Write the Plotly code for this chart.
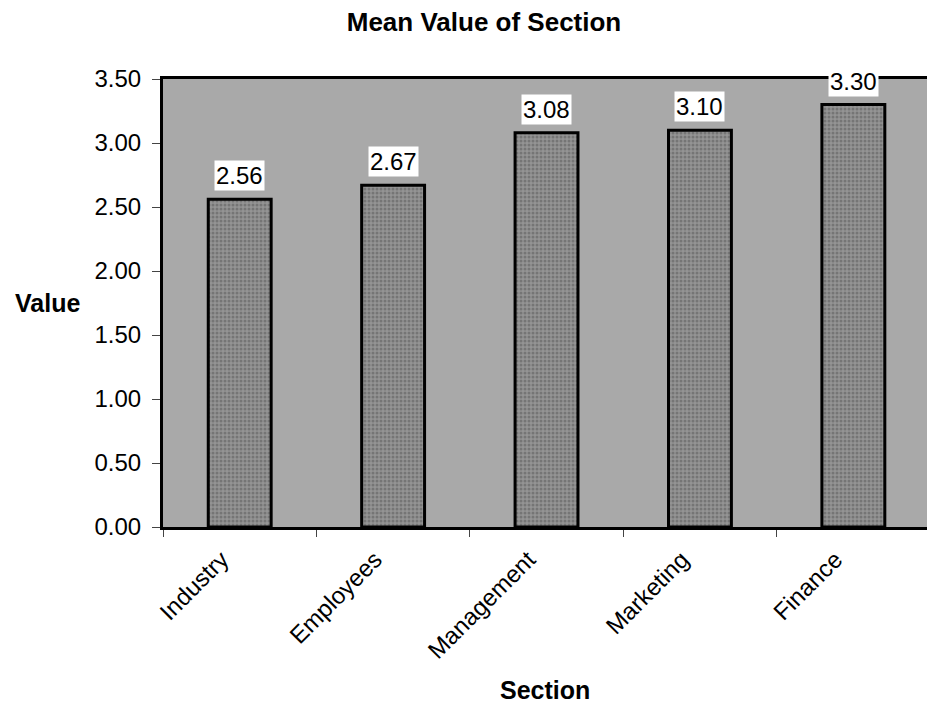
import plotly.graph_objects as go

# Mean value per section
sections = ["Industry", "Employees", "Management", "Marketing", "Finance"]
mean_values = [2.56, 2.67, 3.08, 3.10, 3.30]
y_ticks = [0.0, 0.5, 1.0, 1.5, 2.0, 2.5, 3.0, 3.5]

W, H = 927, 709
M_L, M_R, M_T, M_B = 163, 0, 79, 182
plot_w = W - M_L - M_R
plot_h = H - M_T - M_B

FONT = "Arial, 'Liberation Sans', Helvetica, sans-serif"
FS = 24

fig = go.Figure()
fig.add_trace(go.Bar(
    x=sections,
    y=mean_values,
    width=0.41,
    marker=dict(
        color="#858585",
        line=dict(color="black", width=3),
        pattern=dict(shape=".", fgcolor="#555555", bgcolor="#949494",
                     size=4, solidity=0.45, fillmode="overlay"),
    ),
    showlegend=False,
    hoverinfo="skip",
))

# value labels on white boxes above each bar
for s, v in zip(sections, mean_values):
    fig.add_annotation(
        x=s, y=v, xref="x", yref="y",
        text=f"{v:.2f}",
        showarrow=False,
        yanchor="bottom", yshift=8,
        bgcolor="white",
        borderpad=1,
        font=dict(family=FONT, size=FS, color="black"),
    )

# horizontal axis titles
fig.add_annotation(
    text="<b>Value</b>", xref="paper", yref="paper",
    x=(13 - M_L) / plot_w, y=0.5, xanchor="left", yanchor="middle",
    showarrow=False, font=dict(family=FONT, size=25, color="black"),
)
fig.add_annotation(
    text="<b>Section</b>", xref="paper", yref="paper",
    x=(545 - M_L) / plot_w, y=-(690 - (M_T + plot_h)) / plot_h,
    xanchor="center", yanchor="middle",
    showarrow=False, font=dict(family=FONT, size=25, color="black"),
)

fig.update_layout(
    width=W, height=H,
    margin=dict(l=M_L, r=M_R, t=M_T, b=M_B, pad=0),
    paper_bgcolor="white",
    plot_bgcolor="#a9a9a9",
    title=dict(
        text="<b>Mean Value of Section</b>",
        x=484 / W, y=1 - 22 / H, xanchor="center", yanchor="middle",
        font=dict(family=FONT, size=26, color="black"),
    ),
    font=dict(family=FONT, size=FS, color="black"),
)

fig.update_xaxes(
    type="category",
    range=[-0.5, 4.48],
    showline=True, linecolor="black", linewidth=3, mirror=True,
    ticks="outside", tickson="boundaries", ticklen=7, tickcolor="#444",
    tickangle=-45,
    ticklabelshift=-18,
    ticklabelstandoff=6,
    tickfont=dict(family=FONT, size=FS, color="black"),
    showgrid=False,
)
fig.update_yaxes(
    range=[0, 3.5],
    tickvals=y_ticks,
    tickformat=".2f",
    showline=True, linecolor="black", linewidth=3,
    ticks="outside", ticklen=8, tickcolor="#444",
    ticklabelstandoff=6,
    tickfont=dict(family=FONT, size=FS, color="black"),
    showgrid=False, zeroline=False,
)

fig.write_html("out.html")
